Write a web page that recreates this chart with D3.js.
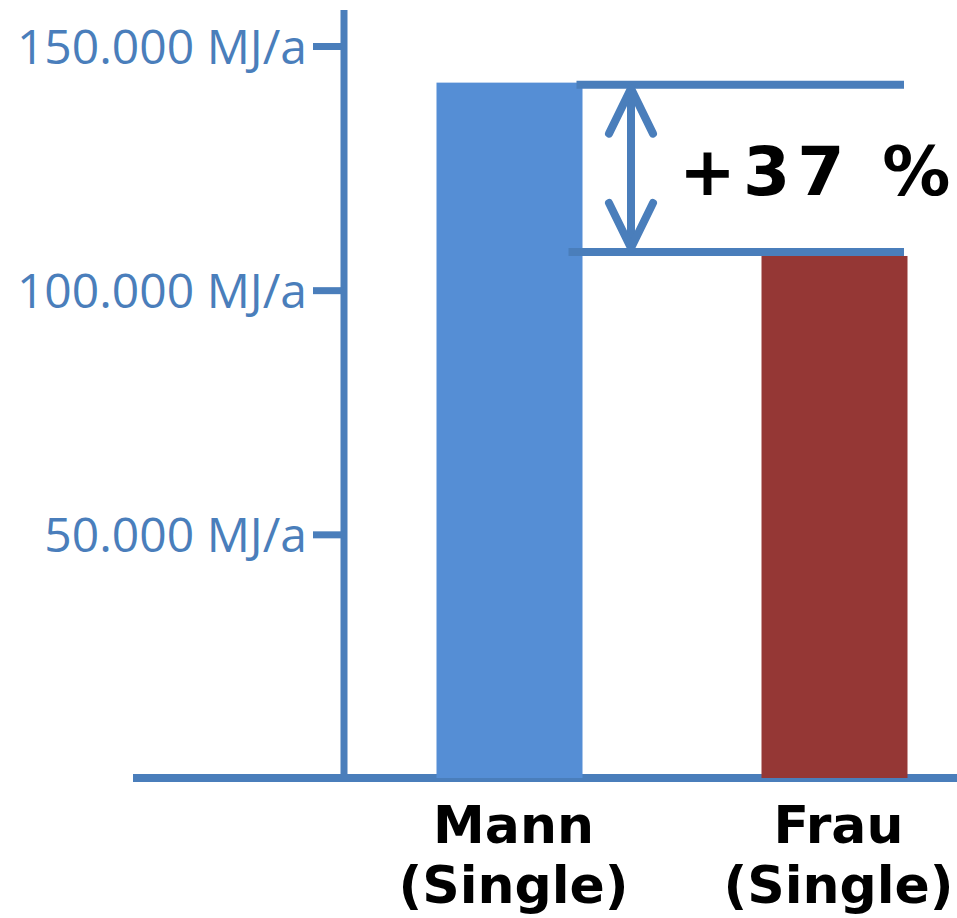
<!DOCTYPE html>
<html>
<head>
<meta charset="utf-8">
<script src="https://cdn.jsdelivr.net/npm/d3@7"></script>
<style>
  html, body { margin: 0; padding: 0; background: #fff; }
  svg { display: block; }
</style>
</head>
<body>
<div id="chart"></div>
<script>
// Annual energy demand, single households
const categories = ["Mann", "Frau"];
const subLabel = "(Single)";
const energyValues = [142500, 107000]; // MJ/a
const barColors = ["#558ed5", "#953735"];
const tickValues = [50000, 100000, 150000];
const tickUnit = "MJ/a";
const diffLabel = "+37 %";

const W = 957, H = 918;
const axisColor = "#4a7ebb";
const boldFont = "'DejaVu Sans', Verdana, sans-serif";

const de = d3.formatLocale({ decimal: ",", thousands: ".", grouping: [3], currency: ["", " €"] });
const fmt = de.format(",");

const svg = d3.select("#chart").append("svg")
  .attr("width", W).attr("height", H);

const axisX = 344;
const y = d3.scaleLinear().domain([0, 150000]).range([778.5, 46]);
const x = d3.scalePoint().domain(categories).range([509.5, 834.5]);
const barW = 146;

// baseline
svg.append("line")
  .attr("x1", 133).attr("x2", W)
  .attr("y1", 778).attr("y2", 778)
  .attr("stroke", axisColor).attr("stroke-width", 8);

// value axis
svg.append("line")
  .attr("x1", axisX).attr("x2", axisX)
  .attr("y1", 10).attr("y2", 782)
  .attr("stroke", axisColor).attr("stroke-width", 7);

const yAxis = d3.axisLeft(y)
  .tickValues(tickValues)
  .tickSize(31)
  .tickPadding(6)
  .tickFormat(d => fmt(d) + " " + tickUnit);

const gy = svg.append("g")
  .attr("transform", `translate(${axisX},0)`)
  .call(yAxis);
gy.select(".domain").remove();
gy.selectAll(".tick line")
  .attr("stroke", axisColor).attr("stroke-width", 7);
gy.selectAll(".tick text")
  .attr("fill", axisColor)
  .attr("font-family", "'Open Sans', sans-serif")
  .attr("font-size", 48)
  .attr("dy", "0.36em");

// bars
svg.selectAll("rect.bar")
  .data(categories)
  .join("rect")
  .attr("class", "bar")
  .attr("x", d => x(d) - barW / 2)
  .attr("width", barW)
  .attr("y", (d, i) => y(energyValues[i]))
  .attr("height", (d, i) => y(0) - 0.5 - y(energyValues[i]))
  .attr("fill", (d, i) => barColors[i]);

// category labels
const lab = svg.selectAll("text.cat")
  .data(categories)
  .join("text")
  .attr("class", "cat")
  .attr("text-anchor", "middle")
  .attr("font-family", boldFont)
  .attr("font-weight", "bold")
  .attr("font-size", 52)
  .attr("fill", "#000");
lab.append("tspan")
  .attr("x", d => x(d) + 4)
  .attr("y", 843)
  .text(d => d);
lab.append("tspan")
  .attr("x", d => x(d) + 4)
  .attr("y", 903)
  .text(subLabel);

// difference marker between the two bar tops
const yTop = y(energyValues[0]);
const yLow = y(energyValues[1]);
const g = svg.append("g")
  .attr("stroke", axisColor)
  .attr("stroke-width", 8)
  .attr("fill", "none");
g.append("line")
  .attr("x1", x(categories[0]) + barW / 2 - 6).attr("x2", 904)
  .attr("y1", yTop + 2).attr("y2", yTop + 2);
g.append("line")
  .attr("x1", x(categories[0]) + barW / 2 - 14).attr("x2", 904)
  .attr("y1", yLow - 4).attr("y2", yLow - 4);

const ax = 631;
const tipTop = yTop + 6, tipLow = yLow - 8;
g.append("line")
  .attr("x1", ax).attr("x2", ax)
  .attr("y1", tipTop).attr("y2", tipLow);
g.append("path")
  .attr("stroke-linecap", "round").attr("stroke-linejoin", "round")
  .attr("d", d3.line()([[ax - 22, tipTop + 45], [ax, tipTop], [ax + 22, tipTop + 45]]));
g.append("path")
  .attr("stroke-linecap", "round").attr("stroke-linejoin", "round")
  .attr("d", d3.line()([[ax - 22, tipLow - 45], [ax, tipLow], [ax + 22, tipLow - 45]]));

svg.append("text")
  .attr("x", 679)
  .attr("y", 195)
  .attr("font-family", boldFont)
  .attr("font-weight", "bold")
  .attr("font-size", 68)
  .attr("letter-spacing", 7)
  .attr("fill", "#000")
  .text(diffLabel);
</script>
</body>
</html>
